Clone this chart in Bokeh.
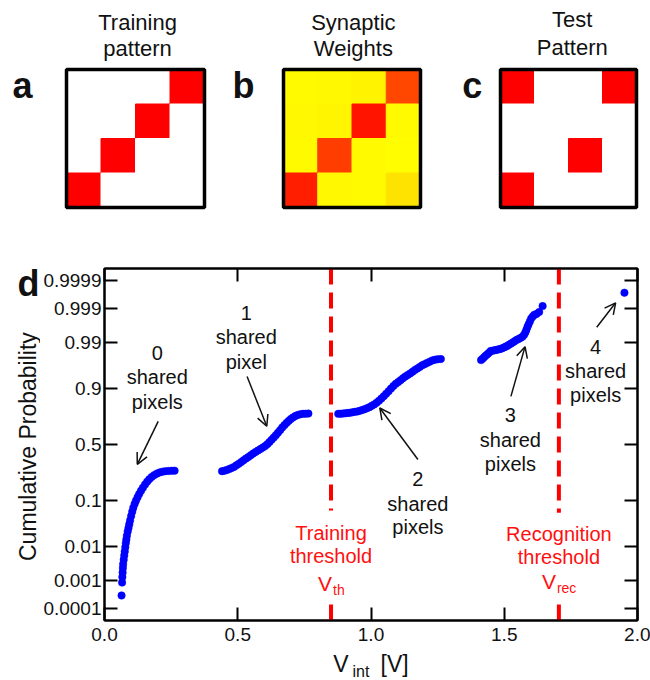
from statistics import NormalDist
from math import pi
from bokeh.plotting import figure
from bokeh.layouts import column, row
from bokeh.models import (ColumnDataSource, Range1d, Label, Arrow, OpenHead, LinearAxis,
                          FixedTicker, CustomJSTickFormatter, PrintfTickFormatter,
                          LinearColorMapper)
from bokeh.transform import transform
from bokeh.embed import file_html
from bokeh.resources import INLINE

FONT = "Liberation Sans"
INK = "#111111"
RED = "#ff1010"

# ---------------- data ----------------
training_pattern = [[0, 0, 0, 1],
                    [0, 0, 1, 0],
                    [0, 1, 0, 0],
                    [1, 0, 0, 0]]
synaptic_weights = [[0.02, 0.03, 0.05, 0.72],
                    [0.03, 0.04, 0.92, 0.02],
                    [0.02, 0.76, 0.02, 0.01],
                    [0.88, 0.03, 0.02, 0.11]]
test_pattern = [[1, 0, 0, 1],
                [0, 0, 0, 0],
                [0, 0, 1, 0],
                [1, 0, 0, 0]]

# 0 shared pixels
v0 = [0.064, 0.066, 0.067, 0.068, 0.069, 0.070, 0.072, 0.074, 0.076, 0.078, 0.080, 0.082,
      0.084, 0.087, 0.090, 0.093, 0.096, 0.100, 0.104, 0.108, 0.113, 0.118, 0.124, 0.130,
      0.137, 0.144, 0.152, 0.160, 0.168, 0.177, 0.186, 0.196, 0.206, 0.217, 0.228, 0.240,
      0.252, 0.263]
p0 = [0.0003, 0.00085, 0.0013, 0.0018, 0.0025, 0.0033, 0.0044, 0.0058, 0.0075, 0.0098,
      0.0125, 0.0155, 0.019, 0.024, 0.029, 0.035, 0.042, 0.052, 0.063, 0.075, 0.088, 0.101,
      0.115, 0.130, 0.146, 0.163, 0.181, 0.199, 0.215, 0.230, 0.243, 0.254, 0.262, 0.268,
      0.272, 0.274, 0.275, 0.276]
# 1 shared pixel
v1 = [0.441, 0.450, 0.459, 0.468, 0.477, 0.486, 0.495, 0.504, 0.513, 0.522, 0.531, 0.540,
      0.549, 0.558, 0.567, 0.576, 0.585, 0.594, 0.603, 0.611, 0.619, 0.627, 0.635, 0.643,
      0.651, 0.659, 0.667, 0.675, 0.683, 0.691, 0.699, 0.707, 0.716, 0.725, 0.735, 0.745,
      0.755, 0.765]
p1 = [0.272, 0.276, 0.281, 0.288, 0.296, 0.305, 0.318, 0.331, 0.345, 0.360, 0.375, 0.389,
      0.404, 0.419, 0.433, 0.446, 0.459, 0.472, 0.487, 0.503, 0.522, 0.543, 0.563, 0.584,
      0.606, 0.628, 0.650, 0.670, 0.688, 0.704, 0.718, 0.730, 0.741, 0.749, 0.754, 0.757,
      0.758, 0.759]
# 2 shared pixels
v2 = [0.877, 0.886, 0.895, 0.904, 0.913, 0.922, 0.931, 0.940, 0.949, 0.958, 0.967, 0.976,
      0.985, 0.994, 1.003, 1.012, 1.021, 1.030, 1.039, 1.048, 1.057, 1.066, 1.075, 1.084,
      1.093, 1.102, 1.111, 1.120, 1.129, 1.138, 1.147, 1.156, 1.165, 1.174, 1.183, 1.192,
      1.201, 1.210, 1.220, 1.230, 1.240, 1.250, 1.262]
p2 = [0.757, 0.758, 0.759, 0.761, 0.763, 0.765, 0.768, 0.771, 0.774, 0.778, 0.783, 0.789,
      0.795, 0.802, 0.810, 0.819, 0.829, 0.840, 0.852, 0.864, 0.876, 0.887, 0.898, 0.908,
      0.916, 0.922, 0.928, 0.934, 0.939, 0.943, 0.947, 0.951, 0.955, 0.958, 0.961, 0.964,
      0.966, 0.968, 0.970, 0.972, 0.973, 0.9737, 0.974]
# 3 shared pixels
v3 = [1.413, 1.419, 1.425, 1.431, 1.437, 1.443, 1.449, 1.456, 1.463, 1.470, 1.477, 1.484,
      1.491, 1.498, 1.505, 1.512, 1.519, 1.526, 1.533, 1.540, 1.547, 1.554, 1.561, 1.568,
      1.574, 1.579, 1.583, 1.587, 1.591, 1.596, 1.601, 1.607, 1.613, 1.621, 1.631, 1.644]
p3 = [0.9725, 0.9745, 0.9765, 0.9785, 0.9800, 0.9815, 0.9832, 0.9835, 0.9838, 0.9842,
      0.9846, 0.9850, 0.9855, 0.9862, 0.9869, 0.9876, 0.9884, 0.9892, 0.9899, 0.9906,
      0.9913, 0.9918, 0.9923, 0.9928, 0.9936, 0.9945, 0.9954, 0.9962, 0.9968, 0.9974,
      0.9979, 0.9982, 0.9984, 0.9985, 0.9987, 0.99917]
# 4 shared pixels
v4 = [1.951]
p4 = [0.99972]

v_th = 0.85
v_rec = 1.705

prob_ticks = [0.0001, 0.001, 0.01, 0.1, 0.5, 0.9, 0.99, 0.999, 0.9999]
prob_tick_labels = ["0.0001", "0.001", "0.01", "0.1", "0.5", "0.9", "0.99", "0.999", "0.9999"]
volt_ticks = [0.0, 0.5, 1.0, 1.5, 2.0]

nd = NormalDist()
def probit(q):
    return nd.inv_cdf(q)


def add_label(f, x, y, text, size=20, color=INK, align="center", bold=False, angle=0.0,
              x_offset=0):
    f.add_layout(Label(x=x, y=y, text=text, text_font=FONT, text_font_size=f"{size}px",
                       text_color=color, text_align=align, text_baseline="middle",
                       text_font_style="bold" if bold else "normal", angle=angle,
                       x_offset=x_offset))


def blank_fig(width, height, x_range, y_range):
    f = figure(width=width, height=height, x_range=x_range, y_range=y_range,
               x_axis_location=None, y_axis_location=None, output_backend="svg",
               toolbar_location=None, min_border=0, min_border_left=0, min_border_right=0,
               min_border_top=0, min_border_bottom=0)
    f.grid.visible = False
    f.outline_line_color = None
    return f

# ---------------- top panels (a, b, c) ----------------
TOP_H = 230
BOX_T, BOX_B = 69, 23      # pixel margins of the 4x4 box in each panel
red_white = LinearColorMapper(palette=["#ffffff", "#ff0000"], low=0, high=1)
red_yellow = LinearColorMapper(palette=["#ff%02x00" % (255 - i) for i in range(256)],
                               low=0, high=1)


def make_panel(mat, mapper, width, left, right, letter, letter_x, title, title_x, mid1, mid2):
    xu = (width - left - right) / 4.0
    yu = (TOP_H - BOX_T - BOX_B) / 4.0
    f = blank_fig(width, TOP_H,
                  Range1d(-left / xu, 4 + right / xu),
                  Range1d(-BOX_B / yu, 4 + BOX_T / yu))
    xs, ys, vs = [], [], []
    for r, line in enumerate(mat):
        for c, v in enumerate(line):
            xs.append(c + 0.5)
            ys.append(3.5 - r)
            vs.append(v)
    src = ColumnDataSource(dict(x=xs, y=ys, v=vs))
    f.rect("x", "y", 1, 1, source=src, fill_color=transform("v", mapper),
           line_color=transform("v", mapper), line_width=1)
    f.rect(x=[2], y=[2], width=[4], height=[4], fill_color=None, line_color="black",
           line_width=3.5)
    # label positions given as page-pixel rows, converted to panel units
    add_label(f, letter_x, 4 + (BOX_T - 85) / yu, letter, size=36, bold=True)
    add_label(f, title_x, 4 + (BOX_T - mid1) / yu, title[0], size=22)
    add_label(f, title_x, 4 + (BOX_T - mid2) / yu, title[1], size=22)
    return f


fa = make_panel(training_pattern, red_white, 225, 66, 21, "a", -1.275,
                ("Training", "pattern"), 2.06, 22, 48)
fb = make_panel(synaptic_weights, red_yellow, 217, 58, 22, "b", -1.168,
                ("Synaptic", "Weights"), 2.04, 21.5, 47.5)
fc = make_panel(test_pattern, red_white, 208, 58, 14, "c", -0.832,
                ("Test", "Pattern"), 2.11, 19, 46.5)

# ---------------- main panel (d) ----------------
MAIN_H = 419
LEFT_W = 40
p = figure(width=650 - LEFT_W, height=MAIN_H, x_range=Range1d(0, 2), y_range=Range1d(-4, 4),
           output_backend="svg", toolbar_location=None,
           min_border_left=102 - LEFT_W, min_border_right=13, min_border_top=38,
           min_border_bottom=MAIN_H - 38 - 352)
p.grid.visible = False
p.outline_line_color = "black"
p.outline_line_width = 2

bottom_ax = p.xaxis[0]
left_ax = p.yaxis[0]

zt = [probit(q) for q in prob_ticks]
yfmt = CustomJSTickFormatter(args=dict(zs=zt, labs=prob_tick_labels), code="""
let best = 0, bd = 1e9;
for (let i = 0; i < zs.length; i++) { const d = Math.abs(zs[i] - tick); if (d < bd) { bd = d; best = i; } }
return labs[best];
""")
nofmt = CustomJSTickFormatter(code="return ''")

bottom_ax.ticker = FixedTicker(ticks=volt_ticks, minor_ticks=[])
bottom_ax.formatter = PrintfTickFormatter(format="%.1f")
left_ax.ticker = FixedTicker(ticks=zt, minor_ticks=[])
left_ax.formatter = yfmt
bottom_ax.major_label_standoff = 7
left_ax.major_label_standoff = 3
bottom_ax.major_label_text_font_size = "19px"
left_ax.major_label_text_font_size = "19px"

top_ax = LinearAxis(ticker=FixedTicker(ticks=volt_ticks, minor_ticks=[]),
                    formatter=nofmt, major_label_standoff=0)
right_ax = LinearAxis(ticker=FixedTicker(ticks=zt, minor_ticks=[]),
                      formatter=nofmt, major_label_standoff=0)
p.add_layout(top_ax, "above")
p.add_layout(right_ax, "right")

for ax in [bottom_ax, left_ax, top_ax, right_ax]:
    ax.major_tick_in = 13
    ax.major_tick_out = 0
    ax.minor_tick_line_color = None
    ax.major_tick_line_width = 2
    ax.major_tick_line_color = "black"
    ax.axis_line_width = 2
    ax.axis_line_color = "black"
    ax.major_label_text_font = FONT
    ax.major_label_text_color = INK

# threshold lines (broken where the labels sit)
thr = [v_th, v_rec]
p.segment(x0=thr, y0=[4.0, 4.0], x1=thr, y1=[-1.5, -1.55], line_color="#ff0000",
          line_width=4, line_dash="16 8")
p.segment(x0=thr, y0=[-4.0, -4.0], x1=thr, y1=[-3.62, -3.62], line_color="#ff0000",
          line_width=4, line_dash="16 8")

# data points
for vs, ps in [(v0, p0), (v1, p1), (v2, p2), (v3, p3), (v4, p4)]:
    src = ColumnDataSource(dict(x=vs, z=[probit(q) for q in ps]))
    p.scatter("x", "z", source=src, size=7.5, fill_color="#0000ff", line_color="#0000ff",
              line_width=0.5)

ann = [
    (0.198, [2.08, 1.54, 0.97], ["0", "shared", "pixels"]),
    (0.532, [2.98, 2.45, 1.88], ["1", "shared", "pixel"]),
    (1.176, [-0.79, -1.36, -1.88], ["2", "shared", "pixels"]),
    (1.523, [0.68, 0.11, -0.45], ["3", "shared", "pixels"]),
    (1.843, [2.22, 1.66, 1.13], ["4", "shared", "pixels"]),
]
for x, ys, texts in ann:
    for y, t in zip(ys, texts):
        add_label(p, x, y, t)

arrows = [(0.2015, 0.527, 0.123, -0.45), (0.535, 1.545, 0.609, 0.414),
          (1.176, -0.34, 1.033, 0.83), (1.525, 1.093, 1.578, 2.224),
          (1.847, 2.663, 1.918, 3.22)]
for xs_, ys_, xe, ye in arrows:
    p.add_layout(Arrow(end=OpenHead(size=11, line_width=1.5, line_color=INK),
                       x_start=xs_, y_start=ys_, x_end=xe, y_end=ye,
                       line_width=1.5, line_color=INK))

add_label(p, v_th, -2.0, "Training", color=RED)
add_label(p, v_th, -2.53, "threshold", color=RED)
add_label(p, v_th, -3.16, "V", size=21, color=RED, align="right", x_offset=1)
add_label(p, v_th, -3.30, "th", size=14, color=RED, align="left", x_offset=2)
add_label(p, v_rec, -2.04, "Recognition", color=RED)
add_label(p, v_rec, -2.56, "threshold", color=RED)
add_label(p, v_rec, -3.11, "V", size=21, color=RED, align="right", x_offset=-3)
add_label(p, v_rec, -3.26, "rec", size=14, color=RED, align="left", x_offset=-2)

# left strip: panel letter and y-axis title (coordinates = page pixels)
left = blank_fig(LEFT_W, MAIN_H, Range1d(0, LEFT_W), Range1d(TOP_H + MAIN_H, TOP_H))
add_label(left, 28, 248, "d", size=36, bold=True)
add_label(left, 27, 442, "Cumulative Probability", size=23, angle=pi / 2)

# bottom strip: x-axis title (coordinates = page pixels)
BOT_TOP = TOP_H + MAIN_H
bottom = blank_fig(650, 680 - BOT_TOP, Range1d(0, 650), Range1d(680, BOT_TOP))
add_label(bottom, 348, 663.5, "V", size=23, align="right")
add_label(bottom, 352, 670.5, "int", size=16, align="left")
add_label(bottom, 380, 663.5, "[V]", size=23, align="left")

layout = column(row(fa, fb, fc, spacing=0), row(left, p, spacing=0), bottom, spacing=0)
open("out.html", "w").write(file_html(layout, INLINE))
